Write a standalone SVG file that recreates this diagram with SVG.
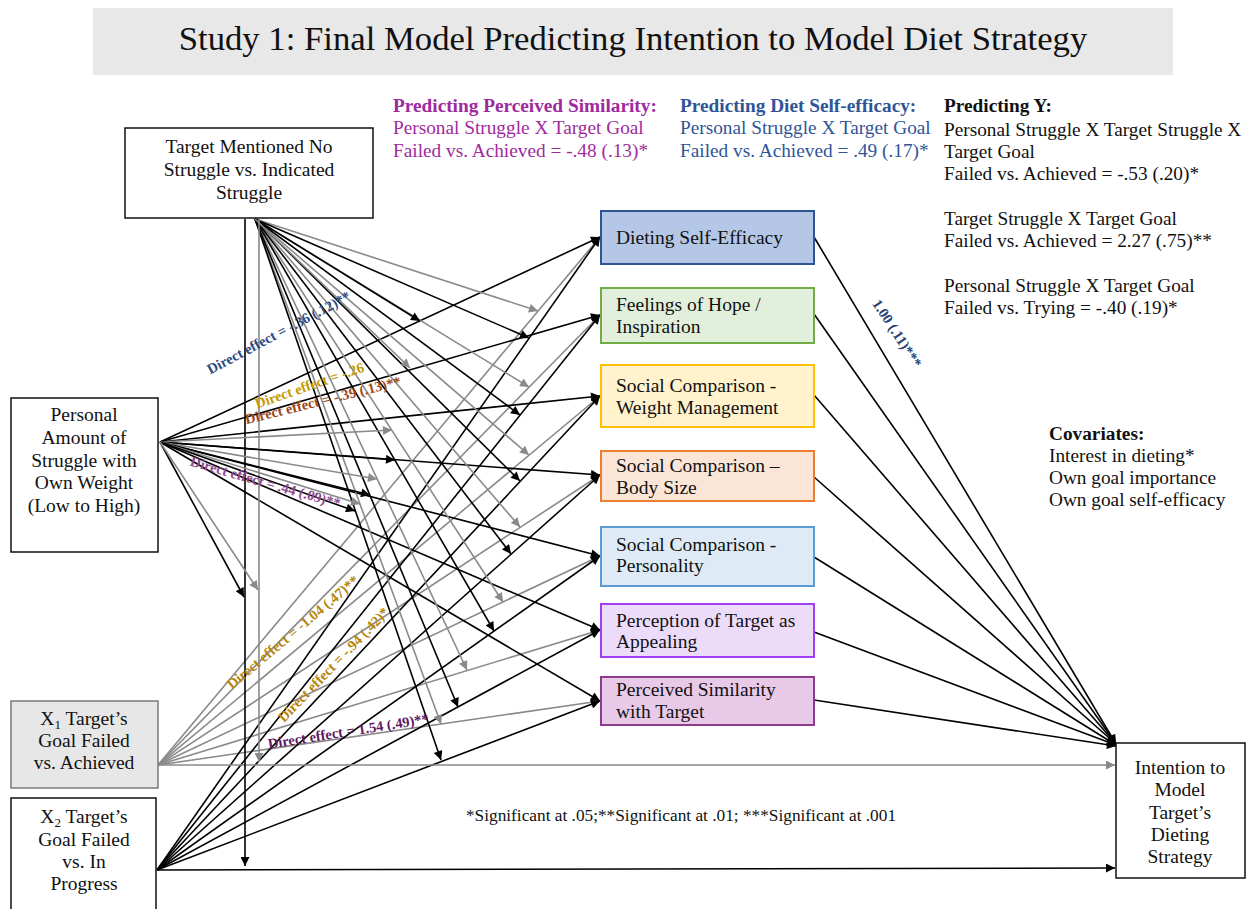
<svg xmlns="http://www.w3.org/2000/svg" width="1250" height="909" viewBox="0 0 1250 909">
  <style>
    .serif { font-family: "Liberation Serif", "Times New Roman", serif; }
    .node text { font-family: "Liberation Serif", "Times New Roman", serif; font-size: 19.5px; fill: #111; }
    .node .box { stroke: #111; stroke-width: 1.5; fill: #fff; }
    .med text { font-family: "Liberation Serif", "Times New Roman", serif; font-size: 19.5px; fill: #111; }
    .med rect { stroke-width: 2; }
    .blk { stroke: #000; stroke-width: 1.6; fill: none; marker-end: url(#ah); }
    .gry { stroke: #8a8a8a; stroke-width: 1.6; fill: none; marker-end: url(#ahg); }
    .note { font-family: "Liberation Serif", "Times New Roman", serif; font-size: 19.3px; }
    .lab { font-family: "Liberation Serif", "Times New Roman", serif; font-size: 14.5px; font-weight: bold; }
  </style>
  <defs>
    <marker id="ah" viewBox="0 0 10 10" refX="10" refY="5" markerWidth="12" markerHeight="9" markerUnits="userSpaceOnUse" orient="auto">
      <path d="M0,0 L10,5 L0,10 z" fill="#000"/>
    </marker>
    <marker id="ahg" viewBox="0 0 10 10" refX="10" refY="5" markerWidth="12" markerHeight="9" markerUnits="userSpaceOnUse" orient="auto">
      <path d="M0,0 L10,5 L0,10 z" fill="#8a8a8a"/>
    </marker>
  </defs>

  <rect width="1250" height="909" fill="#fff"/>

  <!-- title banner -->
  <g id="title">
    <rect x="93" y="8" width="1080" height="67" fill="#e8e8e8"/>
    <text x="633" y="50" class="serif" font-size="34.7" text-anchor="middle" fill="#111">Study 1: Final Model Predicting Intention to Model Diet Strategy</text>
  </g>

  <!-- paths -->
  <g id="connectors">
    <!-- X1 to mediators -->
    <line class="gry" x1="158" y1="765" x2="600" y2="237"/>
    <line class="gry" x1="158" y1="765" x2="600" y2="315"/>
    <line class="gry" x1="158" y1="765" x2="600" y2="396"/>
    <line class="gry" x1="158" y1="765" x2="600" y2="475"/>
    <line class="gry" x1="158" y1="765" x2="600" y2="556"/>
    <line class="gry" x1="158" y1="765" x2="600" y2="630"/>
    <line class="gry" x1="158" y1="765" x2="600" y2="701"/>
    <!-- X2 to mediators -->
    <line class="blk" x1="157" y1="870" x2="600" y2="237"/>
    <line class="blk" x1="157" y1="870" x2="600" y2="315"/>
    <line class="blk" x1="157" y1="870" x2="600" y2="396"/>
    <line class="blk" x1="157" y1="870" x2="600" y2="475"/>
    <line class="blk" x1="157" y1="870" x2="600" y2="556"/>
    <line class="blk" x1="157" y1="870" x2="600" y2="630"/>
    <line class="blk" x1="157" y1="870" x2="600" y2="701"/>
    <!-- personal struggle to mediators -->
    <line class="blk" x1="160" y1="442" x2="600" y2="237"/>
    <line class="blk" x1="160" y1="442" x2="600" y2="315"/>
    <line class="blk" x1="160" y1="442" x2="600" y2="396"/>
    <line class="blk" x1="160" y1="442" x2="600" y2="475"/>
    <line class="blk" x1="160" y1="442" x2="600" y2="556"/>
    <line class="blk" x1="160" y1="442" x2="600" y2="630"/>
    <line class="blk" x1="160" y1="442" x2="600" y2="701"/>
    <!-- X to outcome -->
    <line class="gry" x1="158" y1="765" x2="1115" y2="765"/>
    <line class="blk" x1="157" y1="870" x2="1115" y2="868"/>
    <!-- mediators to outcome -->
    <line class="blk" x1="814" y1="237" x2="1116" y2="744"/>
    <line class="blk" x1="814" y1="314" x2="1116" y2="744"/>
    <line class="blk" x1="814" y1="395" x2="1116" y2="744"/>
    <line class="blk" x1="814" y1="477" x2="1116" y2="744"/>
    <line class="blk" x1="814" y1="557" x2="1116" y2="745"/>
    <line class="blk" x1="814" y1="632" x2="1116" y2="745"/>
    <line class="blk" x1="814" y1="700" x2="1116" y2="746"/>
    <!-- target struggle moderating X1 paths -->
    <line class="gry" x1="255" y1="219" x2="538" y2="311"/>
    <line class="gry" x1="255" y1="219" x2="529" y2="387"/>
    <line class="gry" x1="255" y1="219" x2="529" y2="455"/>
    <line class="gry" x1="255" y1="219" x2="520" y2="527"/>
    <line class="gry" x1="255" y1="219" x2="503" y2="602"/>
    <line class="gry" x1="255" y1="219" x2="467" y2="670"/>
    <line class="gry" x1="255" y1="219" x2="441" y2="724"/>
    <!-- target struggle moderating X2 paths -->
    <line class="blk" x1="255" y1="219" x2="529" y2="338"/>
    <line class="blk" x1="255" y1="219" x2="520" y2="415"/>
    <line class="blk" x1="255" y1="219" x2="520" y2="481"/>
    <line class="blk" x1="255" y1="219" x2="511" y2="554"/>
    <line class="blk" x1="255" y1="219" x2="494" y2="631"/>
    <line class="blk" x1="255" y1="219" x2="458" y2="707"/>
    <line class="blk" x1="255" y1="219" x2="441" y2="760"/>
    <!-- target struggle moderating personal struggle paths -->
    <line class="blk" x1="255" y1="219" x2="420" y2="321"/>
    <line class="gry" x1="255" y1="219" x2="410" y2="368"/>
    <!-- target struggle moderating X to outcome -->
    <line class="gry" x1="259" y1="219" x2="259" y2="762"/>
    <line class="blk" x1="245" y1="219" x2="245" y2="866"/>
    <!-- personal struggle three-way arrows -->
    <line class="gry" x1="160" y1="442" x2="392" y2="430"/>
    <line class="blk" x1="160" y1="442" x2="395" y2="460"/>
    <line class="gry" x1="160" y1="442" x2="377" y2="479"/>
    <line class="blk" x1="160" y1="442" x2="370" y2="495"/>
    <line class="gry" x1="160" y1="442" x2="360" y2="504"/>
    <line class="blk" x1="160" y1="442" x2="355" y2="511"/>
    <line class="blk" x1="160" y1="442" x2="244" y2="597"/>
    <line class="gry" x1="160" y1="442" x2="258" y2="590"/>
  </g>

  <!-- path labels -->
  <g id="labels">
    <text class="lab" fill="#2f4a80" transform="translate(281,337) rotate(-28)" text-anchor="middle">Direct effect = -.36 (.12)**</text>
    <text class="lab" fill="#c49a00" transform="translate(311,390) rotate(-19)" text-anchor="middle">Direct effect = -.26</text>
    <text class="lab" fill="#9a4a1a" transform="translate(324,405) rotate(-14)" text-anchor="middle">Direct effect = -.39 (.13)**</text>
    <text class="lab" fill="#8e4a8e" transform="translate(264,487) rotate(16)" text-anchor="middle">Direct effect = .44 (.09)**</text>
    <text class="lab" fill="#b8860b" transform="translate(296,636) rotate(-40)" text-anchor="middle">Direct effect = -1.04 (.47)**</text>
    <text class="lab" fill="#b8860b" transform="translate(337,668) rotate(-46)" text-anchor="middle">Direct effect = -.94 (.42)*</text>
    <text class="lab" fill="#5e1a5e" transform="translate(349,736) rotate(-9)" text-anchor="middle">Direct effect = 1.54 (.49)**</text>
    <text class="lab" fill="#2a3f6e" font-size="15" transform="translate(893,336) rotate(57)" text-anchor="middle">1.00 (.11)***</text>
  </g>

  <!-- predictors and outcome -->
  <g id="target-struggle" class="node">
    <rect class="box" x="125" y="128" width="248" height="90"/>
    <text x="249" y="153" text-anchor="middle">Target Mentioned No</text>
    <text x="249" y="176" text-anchor="middle">Struggle vs. Indicated</text>
    <text x="249" y="199" text-anchor="middle">Struggle</text>
  </g>
  <g id="personal-struggle" class="node">
    <rect class="box" x="11" y="398" width="147" height="154"/>
    <text x="84" y="421" text-anchor="middle">Personal</text>
    <text x="84" y="444" text-anchor="middle">Amount of</text>
    <text x="84" y="467" text-anchor="middle">Struggle with</text>
    <text x="84" y="489" text-anchor="middle">Own Weight</text>
    <text x="84" y="512" text-anchor="middle">(Low to High)</text>
  </g>
  <g id="x1" class="node">
    <rect x="11" y="701" width="147" height="87" fill="#e7e7e7" stroke="#7a7a7a" stroke-width="1.5"/>
    <text x="84" y="725" text-anchor="middle">X<tspan font-size="13" dy="4">1</tspan><tspan dy="-4"> Target’s</tspan></text>
    <text x="84" y="747" text-anchor="middle">Goal Failed</text>
    <text x="84" y="769" text-anchor="middle">vs. Achieved</text>
  </g>
  <g id="x2" class="node">
    <rect class="box" x="11" y="798" width="145" height="116"/>
    <text x="84" y="823" text-anchor="middle">X<tspan font-size="13" dy="4">2</tspan><tspan dy="-4"> Target’s</tspan></text>
    <text x="84" y="846" text-anchor="middle">Goal Failed</text>
    <text x="84" y="868" text-anchor="middle">vs. In</text>
    <text x="84" y="890" text-anchor="middle">Progress</text>
  </g>
  <g id="intention" class="node">
    <rect class="box" x="1116" y="743" width="129" height="135"/>
    <text x="1180" y="774" text-anchor="middle">Intention to</text>
    <text x="1180" y="796" text-anchor="middle">Model</text>
    <text x="1180" y="819" text-anchor="middle">Target’s</text>
    <text x="1180" y="841" text-anchor="middle">Dieting</text>
    <text x="1180" y="863" text-anchor="middle">Strategy</text>
  </g>

  <!-- mediators -->
  <g id="m-self-efficacy" class="med">
    <rect x="601" y="211" width="213" height="53" fill="#b4c7e7" stroke="#2f5597"/>
    <text x="616" y="244">Dieting Self-Efficacy</text>
  </g>
  <g id="m-hope" class="med">
    <rect x="601" y="288" width="213" height="55" fill="#e2efda" stroke="#70ad47"/>
    <text x="616" y="311">Feelings of Hope /</text>
    <text x="616" y="333">Inspiration</text>
  </g>
  <g id="m-weight" class="med">
    <rect x="601" y="365" width="213" height="62" fill="#fff2cc" stroke="#ffc000"/>
    <text x="616" y="392">Social Comparison  -</text>
    <text x="616" y="414">Weight Management</text>
  </g>
  <g id="m-body" class="med">
    <rect x="601" y="451" width="213" height="50" fill="#fbe5d6" stroke="#ed7d31"/>
    <text x="616" y="472">Social Comparison –</text>
    <text x="616" y="494">Body Size</text>
  </g>
  <g id="m-personality" class="med">
    <rect x="601" y="527" width="213" height="59" fill="#deebf7" stroke="#5b9bd5"/>
    <text x="616" y="551">Social Comparison -</text>
    <text x="616" y="572">Personality</text>
  </g>
  <g id="m-appealing" class="med">
    <rect x="601" y="604" width="213" height="53" fill="#ecdcfa" stroke="#a040f0"/>
    <text x="616" y="627">Perception of Target as</text>
    <text x="616" y="648">Appealing</text>
  </g>
  <g id="m-similarity" class="med">
    <rect x="601" y="677" width="213" height="48" fill="#e8c9e8" stroke="#8e3a8e"/>
    <text x="616" y="696">Perceived Similarity</text>
    <text x="616" y="718">with Target</text>
  </g>

  <!-- interaction notes -->
  <g id="note-similarity" class="note" fill="#9e2a9e">
    <text x="393" y="112" font-weight="bold">Predicting Perceived Similarity:</text>
    <text x="393" y="134">Personal Struggle X Target Goal</text>
    <text x="393" y="157">Failed vs. Achieved = -.48 (.13)*</text>
  </g>
  <g id="note-efficacy" class="note" fill="#2f5597">
    <text x="680" y="112" font-weight="bold">Predicting Diet Self-efficacy:</text>
    <text x="680" y="134">Personal Struggle X Target Goal</text>
    <text x="680" y="157">Failed vs. Achieved = .49 (.17)*</text>
  </g>
  <g id="note-y" class="note" fill="#111">
    <text x="944" y="112" font-weight="bold">Predicting Y:</text>
    <text x="944" y="136">Personal Struggle X Target Struggle X</text>
    <text x="944" y="158">Target Goal</text>
    <text x="944" y="180">Failed vs. Achieved = -.53 (.20)*</text>
    <text x="944" y="225">Target Struggle X Target Goal</text>
    <text x="944" y="247">Failed vs. Achieved = 2.27 (.75)**</text>
    <text x="944" y="292">Personal Struggle X Target Goal</text>
    <text x="944" y="314">Failed vs. Trying = -.40 (.19)*</text>
  </g>
  <g id="note-covariates" class="note" fill="#111">
    <text x="1049" y="440" font-weight="bold">Covariates:</text>
    <text x="1049" y="462">Interest in dieting*</text>
    <text x="1049" y="484">Own goal importance</text>
    <text x="1049" y="506">Own goal self-efficacy</text>
  </g>
  <text x="681" y="821" class="serif" font-size="17.3" text-anchor="middle" fill="#111">*Significant at .05;**Significant at .01; ***Significant at .001</text>
</svg>
